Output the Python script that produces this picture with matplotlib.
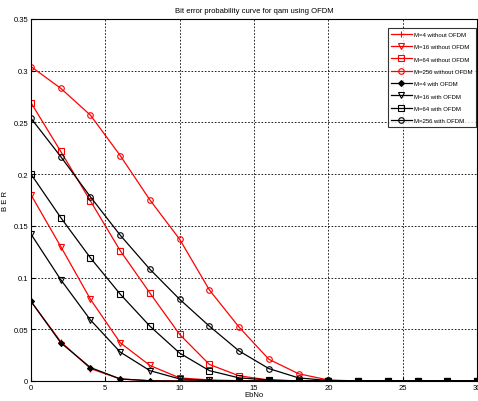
import matplotlib
matplotlib.use("Agg")
import matplotlib.pyplot as plt
import matplotlib.ticker as mticker
from matplotlib import font_manager

names = {f.name for f in font_manager.fontManager.ttflist}
fam = 'Liberation Sans Narrow' if 'Liberation Sans Narrow' in names else 'Liberation Sans'
plt.rcParams['font.family'] = [fam, 'DejaVu Sans']

ebno = [0, 2, 4, 6, 8, 10, 12, 14, 16, 18, 20, 22, 24, 26, 28, 30]

# without OFDM
m4_no = [0.077, 0.038, 0.012, 0.002, 0.0003, 0, 0, 0, 0, 0, 0, 0, 0, 0, 0, 0]
m16_no = [0.180, 0.130, 0.079, 0.037, 0.015, 0.003, 0.001, 0.0003, 0, 0, 0, 0, 0, 0, 0, 0]
m64_no = [0.269, 0.222, 0.174, 0.126, 0.085, 0.045, 0.016, 0.005, 0.001, 0.0002, 0, 0, 0, 0, 0, 0]
m256_no = [0.304, 0.283, 0.257, 0.218, 0.175, 0.137, 0.088, 0.052, 0.021, 0.007, 0.001, 0, 0, 0, 0, 0]

# with OFDM
m4_of = [0.077, 0.037, 0.013, 0.002, 0.0002, 0, 0, 0, 0, 0, 0, 0, 0, 0, 0, 0]
m16_of = [0.142, 0.098, 0.059, 0.028, 0.010, 0.002, 0.0005, 0, 0, 0, 0, 0, 0, 0, 0, 0]
m64_of = [0.200, 0.158, 0.119, 0.084, 0.053, 0.027, 0.010, 0.003, 0.001, 0, 0, 0, 0, 0, 0, 0]
m256_of = [0.254, 0.217, 0.178, 0.141, 0.108, 0.079, 0.053, 0.029, 0.012, 0.003, 0.0005, 0, 0, 0, 0, 0]

series = [
    (m4_no, 'r', '+', 'M=4 without OFDM'),
    (m16_no, 'r', 'v', 'M=16 without OFDM'),
    (m64_no, 'r', 's', 'M=64 without OFDM'),
    (m256_no, 'r', 'o', 'M=256 without OFDM'),
    (m4_of, 'k', 'D', 'M=4 with OFDM'),
    (m16_of, 'k', 'v', 'M=16 with OFDM'),
    (m64_of, 'k', 's', 'M=64 with OFDM'),
    (m256_of, 'k', 'o', 'M=256 with OFDM'),
]

fig = plt.figure(figsize=(4.78, 4.02), dpi=100)
ax = fig.add_axes([31 / 478, 20 / 402, 446 / 478, 362 / 402])

for vals, col, mk, lab in series:
    face = col if mk == 'D' else 'none'
    size = 3 if mk == 'D' else 4
    ax.plot(ebno, vals, color=col, marker=mk, markersize=size, markerfacecolor=face,
            markeredgewidth=0.8, linewidth=0.9, label=lab)

ax.set_xlim(0, 30)
ax.set_ylim(0, 0.35)
ax.xaxis.set_major_locator(mticker.MultipleLocator(5))
ax.yaxis.set_major_locator(mticker.MultipleLocator(0.05))
ax.yaxis.set_major_formatter(mticker.FormatStrFormatter('%g'))
ax.tick_params(labelsize=5.5, length=3, direction='in', pad=2)
ax.grid(True, color='k', linestyle=(0, (2, 2)), linewidth=0.6)
for s in ax.spines.values():
    s.set_linewidth(0.8)

ax.set_title('Bit error probability curve for qam using OFDM', fontsize=5.5, pad=5)
ax.set_xlabel('EbNo', fontsize=5.5, labelpad=0)
ax.set_ylabel('B E R', fontsize=5.5, labelpad=3)

leg = ax.legend(loc='upper right', fontsize=4.3, frameon=True, fancybox=False,
                edgecolor='k', borderpad=0.6, labelspacing=1.2, handlelength=3.4,
                handletextpad=0.4, borderaxespad=0, bbox_to_anchor=(0.998, 0.975))
leg.get_frame().set_linewidth(0.8)

fig.savefig('out.png', dpi=100)
